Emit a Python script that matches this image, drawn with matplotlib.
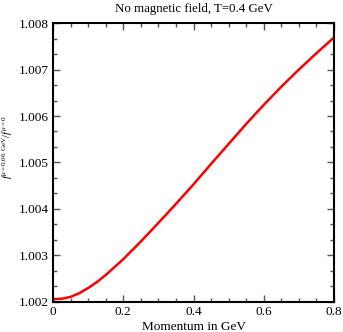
import numpy as np
import matplotlib
matplotlib.use("Agg")
import matplotlib.pyplot as plt
from matplotlib.ticker import MultipleLocator, FuncFormatter

# data
momentum = [0.0, 0.025, 0.05, 0.075, 0.1, 0.125, 0.15, 0.2, 0.25, 0.3,
            0.35, 0.4, 0.45, 0.5, 0.55, 0.6, 0.65, 0.7, 0.75, 0.8]
ratio = [1.00206, 1.00207, 1.00211, 1.00219, 1.00230, 1.00243, 1.00258,
         1.00292, 1.00330, 1.00370, 1.00411, 1.00453, 1.00497, 1.00540,
         1.00583, 1.00624, 1.00663, 1.00700, 1.00735, 1.00769]

plt.rcParams['font.family'] = ['Liberation Serif', 'DejaVu Serif']
plt.rcParams['mathtext.fontset'] = 'custom'
plt.rcParams['mathtext.rm'] = 'Liberation Serif'
plt.rcParams['mathtext.it'] = 'Liberation Serif:italic'

fig = plt.figure(figsize=(3.43, 3.32), dpi=100)
ax = fig.add_axes([0.1545, 0.0904, 0.8193, 0.8403])

ax.plot(momentum, ratio, color='red', lw=1.8)

ax.set_xlim(0, 0.8)
ax.set_ylim(1.002, 1.008)
ax.xaxis.set_major_locator(MultipleLocator(0.2))
ax.xaxis.set_minor_locator(MultipleLocator(0.05))
ax.yaxis.set_major_locator(MultipleLocator(0.001))
ax.yaxis.set_minor_locator(MultipleLocator(0.001 / 3))
ax.xaxis.set_major_formatter(FuncFormatter(lambda v, p: '%g' % round(v, 3)))
ax.yaxis.set_major_formatter(FuncFormatter(lambda v, p: '%.3f' % v))

ax.tick_params(which='both', direction='in', top=True, right=True,
               labelsize=9.5, pad=3)
ax.tick_params(which='major', length=5, width=1, color='#555555')
ax.tick_params(which='minor', length=3, width=1, color='#555555')
for s in ax.spines.values():
    s.set_linewidth(1.5)

ax.set_title('No magnetic field, T=0.4 GeV', fontsize=9.3, pad=8)
ax.set_xlabel('Momentum in GeV', fontsize=9.5, labelpad=2)
ax.set_ylabel(r'$f^{\mu=0.06\ \mathrm{GeV}}/f^{\mu=0}$', fontsize=7.5)
ax.yaxis.set_label_coords(-0.135, 0.555)

fig.savefig('out.png', dpi=100)
